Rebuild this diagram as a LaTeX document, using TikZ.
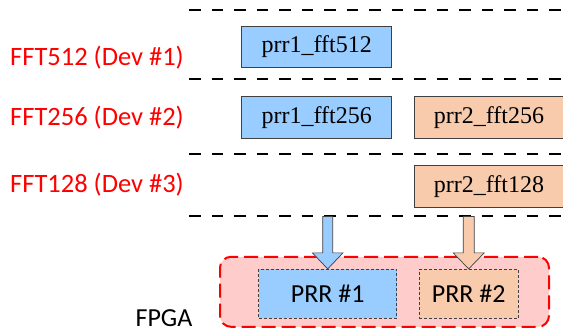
\documentclass[tikz,border=0pt]{standalone}
\usepackage{fontspec}
\setmainfont{Liberation Serif}
\newfontfamily\carlitofont{Carlito}
\usetikzlibrary{calc}
\definecolor{boxblue}{HTML}{99CCFF}
\definecolor{boxpeach}{HTML}{F8CBAD}
\definecolor{fpgapink}{HTML}{FFCCCC}
\definecolor{edgegray}{HTML}{404040}
\tikzset{
  sep/.style={draw=black, line width=2pt, dash pattern=on 11.5pt off 11pt},
  taskbox/.style={draw=edgegray, line width=0.9pt, minimum width=150pt, minimum height=41.5pt, inner sep=0pt, font=\fontsize{24}{28}\selectfont},
  devlabel/.style={text=red, anchor=base west, inner sep=0pt, font=\carlitofont\fontsize{26.5}{30}\selectfont},
  prrbox/.style={draw=edgegray, line width=0.8pt, dash pattern=on 3pt off 2pt, minimum height=49pt, inner sep=0pt, font=\carlitofont\fontsize{26}{30}\selectfont},
  fpgabox/.style={draw=red, fill=fpgapink, line width=2pt, dash pattern=on 14pt off 6pt, rounded corners=11pt, minimum width=329pt, minimum height=70pt, inner sep=0pt},
  bigarrow/.style={draw=edgegray, line width=0.7pt, line join=miter}
}
\begin{document}
\begin{tikzpicture}[x=1pt,y=-1pt]
\useasboundingbox (0,0) rectangle (563,331);
% separators
\coordinate (s1a) at (189,10);  \coordinate (s1b) at (566,10);
\coordinate (s2a) at (189,79.5);  \coordinate (s2b) at (566,79.5);
\coordinate (s3a) at (189,154);  \coordinate (s3b) at (566,154);
\coordinate (s4a) at (189,216.5);  \coordinate (s4b) at (566,216.5);
\draw[sep] (s1a) -- (s1b);
\draw[sep] (s2a) -- (s2b);
\draw[sep] (s3a) -- (s3b);
\draw[sep] (s4a) -- (s4b);
% device labels
\node[devlabel] (l1) at (10,66) {FFT512 (Dev \#1)};
\node[devlabel] (l2) at (10,126) {FFT256 (Dev \#2)};
\node[devlabel] (l3) at (10,193) {FFT128 (Dev \#3)};
% task boxes
\node[taskbox, fill=boxblue] (t1) at (316.7,46.8) {prr1\_fft512};
\node[taskbox, fill=boxblue] (t2) at (316.7,117.5) {prr1\_fft256};
\node[taskbox, fill=boxpeach] (t3) at (489,117.5) {prr2\_fft256};
\node[taskbox, fill=boxpeach] (t4) at (489,186.5) {prr2\_fft128};
% FPGA
\node[fpgabox] (fpga) at (384.5,291.8) {};
\node[prrbox, fill=boxblue, minimum width=138pt] (p1) at (327.7,293.8) {PRR \#1};
\node[prrbox, fill=boxpeach, minimum width=99.3pt] (p2) at (468.7,293.8) {PRR \#2};
\node[anchor=base, inner sep=0pt, font=\carlitofont\fontsize{26}{30}\selectfont] (fl) at (164,326.7) {FPGA};
% arrows
\coordinate (a1) at (p1.north |- s4a);
\coordinate (a2) at (p2.north |- s4a);
\draw[bigarrow, fill=boxblue] ($(a1)+(-5,0)$) -- ($(a1)+(5,0)$) -- ($(p1.north)+(5,-16)$) -- ($(p1.north)+(15.3,-16)$) -- (p1.north) -- ($(p1.north)+(-15.3,-16)$) -- ($(p1.north)+(-5,-16)$) -- cycle;
\draw[bigarrow, fill=boxpeach] ($(a2)+(-5.5,0)$) -- ($(a2)+(5.5,0)$) -- ($(p2.north)+(5.5,-16)$) -- ($(p2.north)+(15.5,-16)$) -- (p2.north) -- ($(p2.north)+(-15.5,-16)$) -- ($(p2.north)+(-5.5,-16)$) -- cycle;
\end{tikzpicture}
\end{document}
